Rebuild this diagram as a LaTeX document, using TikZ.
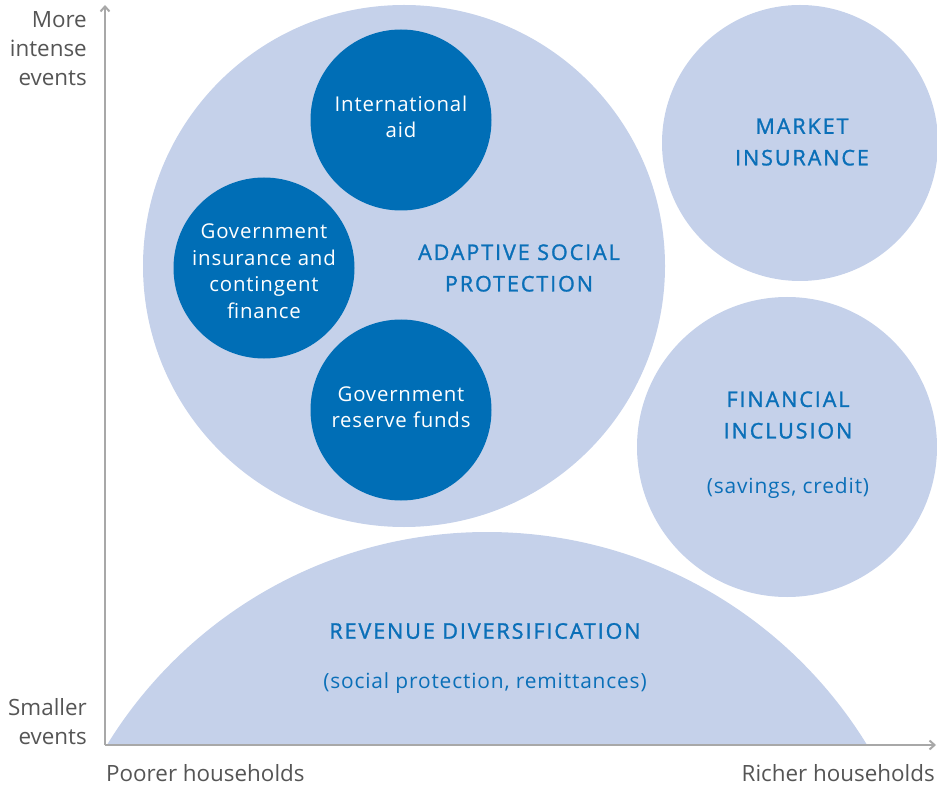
\documentclass[tikz,border=0pt]{standalone}
\usepackage{fontspec}
\setmainfont{Open Sans}
\newfontfamily\capsfont[LetterSpace=9,FakeBold=1.3]{Open Sans}
\newfontfamily\innerfont[LetterSpace=4]{Open Sans}
\usetikzlibrary{arrows.meta}
\definecolor{lightfill}{HTML}{C5D1EA}
\definecolor{darkfill}{HTML}{006EB6}
\definecolor{labelblue}{HTML}{0A6FB8}
\definecolor{axisgray}{HTML}{A8A8A8}
\definecolor{textgray}{HTML}{555555}
\begin{document}
\begin{tikzpicture}[x=1pt,y=-1pt,
  bigcirc/.style={circle,fill=lightfill,inner sep=0pt},
  smallcirc/.style={circle,fill=darkfill,inner sep=0pt,minimum size=181pt},
  innertext/.style={align=center,text=white,font=\fontsize{20.4}{26.5}\selectfont\innerfont},
  captext/.style={align=center,text=labelblue,font=\fontsize{21.5}{31.5}\selectfont\capsfont},
  subtext/.style={align=center,text=labelblue,font=\fontsize{20.9}{24}\selectfont\innerfont},
  axislabel/.style={text=textgray,font=\fontsize{22.4}{29}\selectfont,inner sep=0pt},
  axisline/.style={draw=axisgray,line width=2pt,-{Straight Barb[length=5pt,width=9pt]}}]
\useasboundingbox (0,0) rectangle (937,786);

% big light circles
\node[bigcirc,minimum size=522pt] (asp) at (404,266) {};
\node[bigcirc,minimum size=276pt] (mkt) at (800,143) {};
\node[bigcirc,minimum size=300pt] (fin) at (787,447) {};
\begin{scope}
  \clip (0,0) rectangle (937,745);
  \fill[lightfill] (487,977.5) circle (445.5pt);
\end{scope}

% dark inner circles
\node[smallcirc] (aid) at (401,120) {};
\node[smallcirc] (gov) at (264,268) {};
\node[smallcirc] (res) at (401,410) {};

% inner texts
\node[innertext] (aidt) at (401,117) {International\\aid};
\node[innertext] (govt) at (264,271) {Government\\insurance and\\contingent\\finance};
\node[innertext] (rest) at (401,407) {Government\\reserve funds};

% caption texts
\node[captext] (aspt) at (519,268) {ADAPTIVE SOCIAL\\PROTECTION};
\node[captext] (mktt) at (802,142) {MARKET\\INSURANCE};
\node[captext] (fint) at (788,415) {FINANCIAL\\INCLUSION};
\node[subtext] (fins) at (788,488) {(savings, credit)};
\node[captext] (revt) at (485,631) {REVENUE DIVERSIFICATION};
\node[subtext] (revs) at (485,683) {(social protection, remittances)};

% axes
\coordinate (O) at (105,745);
\coordinate (ytop) at (105,5);
\coordinate (xend) at (936,745);
\draw[axisline] (O) -- (ytop);
\draw[axisline] (O) -- (xend);

% axis labels
\node[axislabel,align=right,anchor=east] (more) at (87,49) {More\\intense\\events};
\node[axislabel,align=right,anchor=east] (small) at (87,722) {Smaller\\events};
\node[axislabel,anchor=west] (poor) at (106,773) {Poorer households};
\node[axislabel,anchor=east] (rich) at (935,773) {Richer households};
\end{tikzpicture}
\end{document}
